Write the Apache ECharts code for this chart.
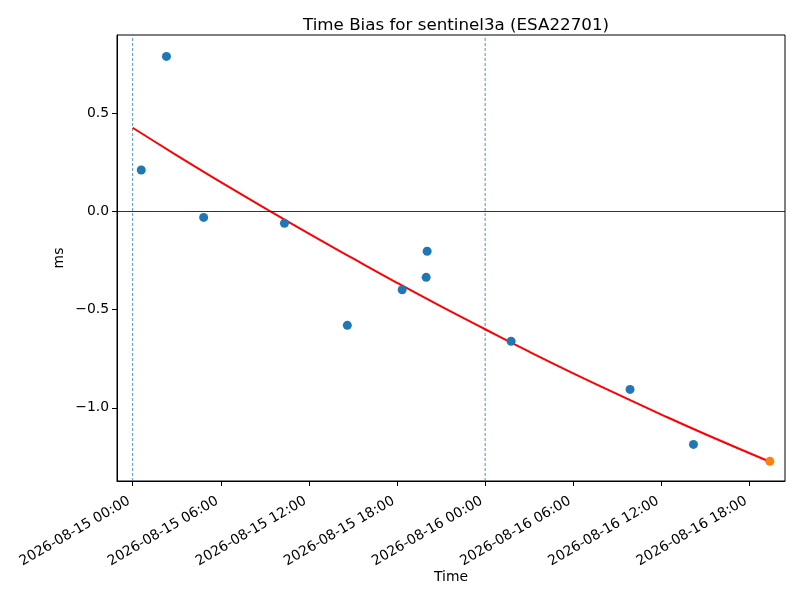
<!DOCTYPE html>
<html><head><meta charset="utf-8">
<script src="https://cdn.jsdelivr.net/npm/echarts@6/dist/echarts.min.js"></script>
<style>html,body{margin:0;padding:0;background:#fff}#c{width:800px;height:600px}</style>
</head><body><div id="c"></div>
<script>
// Observation times (UTC) and time-bias values (ms)
const obsTimes = [
  '2026-08-15T00:35Z','2026-08-15T02:18Z','2026-08-15T04:50Z','2026-08-15T10:20Z',
  '2026-08-15T14:37Z','2026-08-15T18:21Z','2026-08-15T19:59Z','2026-08-15T20:03Z',
  '2026-08-16T01:46Z','2026-08-16T09:52Z','2026-08-16T14:11Z'
];
const obsValues = [0.210, 0.788, -0.031, -0.061, -0.580, -0.399, -0.336, -0.203, -0.661, -0.906, -1.186];
// Predicted (last) point
const predTime = ['2026-08-16T19:23Z'];
const predValue = [-1.272];
// Fit curve
const fitTimes = [
  '2026-08-15T00:00Z','2026-08-15T03:00Z','2026-08-15T06:00Z','2026-08-15T09:00Z',
  '2026-08-15T12:00Z','2026-08-15T15:00Z','2026-08-15T18:00Z','2026-08-15T21:00Z',
  '2026-08-16T00:00Z','2026-08-16T03:00Z','2026-08-16T06:00Z','2026-08-16T09:00Z',
  '2026-08-16T12:00Z','2026-08-16T15:00Z','2026-08-16T19:23Z'
];
const fitValues = [0.425, 0.285, 0.149, 0.016, -0.114, -0.240, -0.364, -0.484,
  -0.600, -0.714, -0.824, -0.930, -1.034, -1.134, -1.274];
// Day boundaries (vertical dashed lines)
const dayLines = ['2026-08-15T00:00Z', '2026-08-16T00:00Z'];
// Tick positions
const xTicks = ['2026-08-15T00:00Z','2026-08-15T06:00Z','2026-08-15T12:00Z','2026-08-15T18:00Z',
  '2026-08-16T00:00Z','2026-08-16T06:00Z','2026-08-16T12:00Z','2026-08-16T18:00Z'];
const yTicks = [-1.0, -0.5, 0.0, 0.5];
const yMin = -1.372, yMax = 0.897;

const T = s => Date.parse(s);
const pad = n => String(n).padStart(2, '0');
const fmtTime = v => { const d = new Date(v);
  return d.getUTCFullYear() + '-' + pad(d.getUTCMonth() + 1) + '-' + pad(d.getUTCDate()) + ' ' +
    pad(d.getUTCHours()) + ':' + pad(d.getUTCMinutes()); };
const fmtNum = v => v.toFixed(1).replace('-', '\u2212');

const font = 'DejaVu Sans';
const chart = echarts.init(document.getElementById('c'), null, {renderer: 'canvas'});
const dayLineSeries = dayLines.map(t => ({
  type: 'line', data: [[T(t), yMin], [T(t), yMax]], showSymbol: false, silent: true, z: 2,
  lineStyle: {color: '#1f77b4', width: 0.8, type: [3, 2]}
}));
chart.setOption({
  animation: false,
  backgroundColor: '#fff',
  textStyle: {fontFamily: font},
  title: {text: 'Time Bias for sentinel3a (ESA22701)', left: 451, top: 12, textAlign: 'center',
    textStyle: {fontFamily: font, fontSize: 16.7, fontWeight: 'normal', color: '#000'}},
  grid: {left: 117, right: 15, top: 35, bottom: 119, show: true, borderColor: '#000', borderWidth: 1,
    backgroundColor: 'transparent'},
  xAxis: {
    type: 'value', min: T('2026-08-14T22:56Z'), max: T('2026-08-16T20:25Z'),
    name: 'Time', nameLocation: 'middle', nameGap: 89, nameMoveOverlap: false,
    nameTextStyle: {fontFamily: font, fontSize: 13.9, color: '#000'},
    axisLine: {show: true, onZero: false, lineStyle: {color: '#000', width: 1}},
    axisTick: {show: true, length: 5, lineStyle: {color: '#000'}, customValues: xTicks.map(T)},
    axisLabel: {rotate: 30, fontFamily: font, fontSize: 13.9, color: '#000', margin: 17,
      padding: [0, 4, 0, 0],
      customValues: xTicks.map(T), formatter: v => fmtTime(v)},
    splitLine: {show: false}
  },
  yAxis: {
    type: 'value', min: yMin, max: yMax,
    name: 'ms', nameLocation: 'middle', nameGap: 51, nameRotate: 90, nameMoveOverlap: false,
    nameTextStyle: {fontFamily: font, fontSize: 13.9, color: '#000'},
    axisLine: {show: true, onZero: false, lineStyle: {color: '#000', width: 1}},
    axisTick: {show: true, length: 5, lineStyle: {color: '#000'}, customValues: yTicks},
    axisLabel: {fontFamily: font, fontSize: 13.9, color: '#000', margin: 8,
      customValues: yTicks, formatter: v => fmtNum(v)},
    splitLine: {show: false}
  },
  series: [
    ...dayLineSeries,
    {type: 'line', data: fitTimes.map((t, i) => [T(t), fitValues[i]]), showSymbol: false,
      smooth: true, lineStyle: {color: 'red', width: 2}, z: 3,
      markLine: {silent: true, symbol: 'none', label: {show: false},
        data: [{yAxis: 0, lineStyle: {color: '#000', width: 0.8, type: 'solid'}}]}},
    {type: 'scatter', data: obsTimes.map((t, i) => [T(t), obsValues[i]]), symbolSize: 9,
      itemStyle: {color: '#1f77b4', opacity: 1}, z: 4},
    {type: 'scatter', data: predTime.map((t, i) => [T(t), predValue[i]]), symbolSize: 9,
      itemStyle: {color: '#ff7f0e', opacity: 1}, z: 5}
  ]
});
</script></body></html>
